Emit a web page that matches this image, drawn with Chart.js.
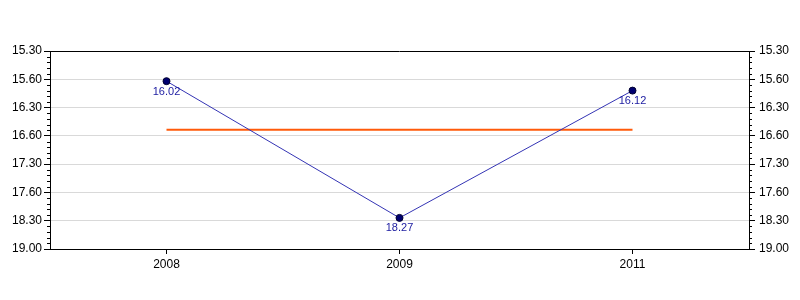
<!DOCTYPE html>
<html>
<head>
<meta charset="utf-8">
<script src="https://cdn.jsdelivr.net/npm/chart.js@4/dist/chart.umd.min.js"></script>
<style>
  html, body { margin: 0; padding: 0; background: #fff; }
  #wrap { width: 800px; height: 300px; }
</style>
</head>
<body>
<div id="wrap"><canvas id="mycanvas" width="800" height="300"></canvas></div>
<script>
// values (times as min.sec)
var years = ['2008', '2009', '2011'];
var times = ['16.02', '18.27', '16.12'];
var average = 16.894;
var yMin = 15.5, yMax = 19.0;
var tickLabels = ['15.30', '15.60', '16.30', '16.60', '17.30', '17.60', '18.30', '19.00'];

// min.sec -> decimal minutes
var minutes = [];
for (var i in times) {
    var p = times[i].split('.');
    minutes.push(parseInt(p[0]) + parseInt(p[1]) / 60);
}
var avgLine = [];
for (var i in years) {
    avgLine.push(average);
}

var font = { family: 'Arial, "Liberation Sans", sans-serif', size: 12 };

var framePlugin = {
    id: 'frame',
    afterDraw: function (chart) {
        var c = chart.ctx, a = chart.chartArea;
        c.save();
        // top border
        c.strokeStyle = '#000';
        c.lineWidth = 1;
        c.beginPath();
        c.moveTo(a.left, a.top + 0.5);
        c.lineTo(a.right, a.top + 0.5);
        c.stroke();
        // minor ticks on both y axes
        var ys = chart.scales.y;
        for (var k = 1; k < 35; k++) {
            if (k % 5 === 0) continue;
            var py = Math.round(ys.getPixelForValue(yMin + k * 0.1)) + 0.5;
            c.beginPath();
            c.moveTo(a.left - 3, py);
            c.lineTo(a.left, py);
            c.moveTo(a.right, py);
            c.lineTo(a.right + 3, py);
            c.stroke();
        }
        // point labels
        var meta = chart.getDatasetMeta(0);
        c.fillStyle = '#1a1aa0';
        c.font = '11px Arial, "Liberation Sans", sans-serif';
        c.textAlign = 'center';
        c.textBaseline = 'top';
        meta.data.forEach(function (pt, j) {
            c.fillText(times[j], pt.x, pt.y + 5);
        });
        c.restore();
    }
};

function yTicks(value) {
    return tickLabels[Math.round((value - yMin) / 0.5)];
}

var ctx = document.getElementById('mycanvas');
var lineGraph = new Chart(ctx, {
    type: 'line',
    data: {
        labels: years,
        datasets: [
            {
                label: 'Time',
                data: minutes,
                borderColor: '#3434b4',
                borderWidth: 1,
                backgroundColor: '#000070',
                pointBackgroundColor: '#000070',
                pointBorderColor: '#000030',
                pointBorderWidth: 1,
                pointRadius: 3.5,
                tension: 0,
                order: 1
            },
            {
                label: 'Average',
                data: avgLine,
                borderColor: '#ff5a0a',
                borderWidth: 2,
                pointRadius: 0,
                tension: 0,
                order: 2
            }
        ]
    },
    plugins: [framePlugin],
    options: {
        responsive: false,
        animation: false,
        events: [],
        layout: { padding: { top: 51, left: 0, right: 0, bottom: 0 } },
        plugins: {
            legend: { display: false },
            tooltip: { enabled: false }
        },
        scales: {
            x: {
                type: 'category',
                offset: true,
                grid: {
                    display: true,
                    offset: false,
                    drawOnChartArea: false,
                    drawTicks: true,
                    tickLength: 5,
                    tickColor: '#000'
                },
                border: { display: true, color: '#000', width: 1 },
                ticks: { color: '#000', font: font, padding: 3, maxRotation: 0 },
                afterFit: function (s) { s.height = 51; }
            },
            y: {
                position: 'left',
                reverse: true,
                min: yMin,
                max: yMax,
                grid: {
                    color: function (c) {
                        var v = c.tick ? c.tick.value : 0;
                        return (v <= yMin || v >= yMax) ? 'rgba(0,0,0,0)' : '#d9d9d9';
                    },
                    tickColor: '#000',
                    tickLength: 6
                },
                border: { display: true, color: '#000', width: 1 },
                ticks: { stepSize: 0.5, color: '#000', font: font, padding: 2, callback: yTicks },
                afterFit: function (s) { s.width = 50; }
            },
            y2: {
                position: 'right',
                reverse: true,
                min: yMin,
                max: yMax,
                grid: {
                    drawOnChartArea: false,
                    tickColor: '#000',
                    tickLength: 6
                },
                border: { display: true, color: '#000', width: 1 },
                ticks: { stepSize: 0.5, color: '#000', font: font, padding: 4, callback: yTicks },
                afterFit: function (s) { s.width = 51; }
            }
        }
    }
});
</script>
</body>
</html>
